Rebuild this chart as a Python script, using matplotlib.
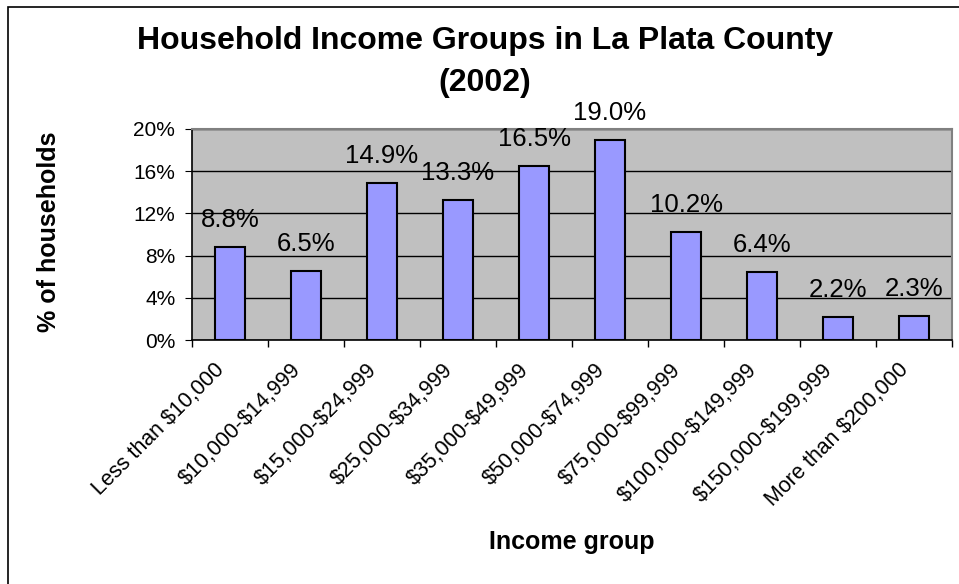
import matplotlib
matplotlib.use("Agg")
import matplotlib.pyplot as plt
import matplotlib.patches as patches
from matplotlib.ticker import FuncFormatter, MultipleLocator, FixedLocator
import matplotlib.transforms as mtransforms

plt.rcParams["font.family"] = ["Liberation Sans", "DejaVu Sans"]
plt.rcParams["text.parse_math"] = False

# Data
income_groups = [
    "Less than $10,000", "$10,000-$14,999", "$15,000-$24,999",
    "$25,000-$34,999", "$35,000-$49,999", "$50,000-$74,999",
    "$75,000-$99,999", "$100,000-$149,999", "$150,000-$199,999",
    "More than $200,000",
]
share_pct = [8.8, 6.5, 14.9, 13.3, 16.5, 19.0, 10.2, 6.4, 2.2, 2.3]

W, H = 959, 584
fig = plt.figure(figsize=(W / 100, H / 100), dpi=100)
fig.patch.set_facecolor("white")

# chart border (only left/top visible, rest cropped off)
fig.add_artist(patches.Rectangle((8 / W, -0.1), 1.2, 1.1 - 7 / H,
                                 transform=fig.transFigure, fill=False,
                                 edgecolor="black", linewidth=1.2))

ax = fig.add_axes([192 / W, 1 - 340 / H, (952 - 192) / W, (340 - 129) / H])
ax.set_facecolor("#C0C0C0")

x = list(range(len(share_pct)))
ax.bar(x, share_pct, width=0.4, color="#9999FF", edgecolor="black",
       linewidth=1.5, zorder=3)

for xi, v in zip(x, share_pct):
    ax.annotate(f"{v:.1f}%", (xi, v), xytext=(0, 27), textcoords="offset pixels",
                ha="center", va="center", fontsize=18.5, zorder=4)

ax.set_xlim(-0.5, len(share_pct) - 0.5)
ax.set_ylim(0, 20)
ax.yaxis.set_major_locator(MultipleLocator(4))
ax.yaxis.set_major_formatter(FuncFormatter(lambda v, p: f"{v:.0f}%"))
ax.grid(axis="y", color="black", linewidth=1.0, zorder=1)
ax.set_axisbelow(True)

ax.set_xticks(x)
ax.set_xticklabels(income_groups, rotation=45, ha="right",
                   rotation_mode="anchor", fontsize=15.5)
ax.xaxis.set_minor_locator(FixedLocator([i - 0.5 for i in range(len(x) + 1)]))
ax.tick_params(axis="x", which="major", length=0, pad=14)
ax.tick_params(axis="x", which="minor", length=5, direction="out", width=1)
ax.tick_params(axis="y", length=5, direction="out", labelsize=15, pad=7)
offset = mtransforms.ScaledTranslation(-16 / 100, 0, fig.dpi_scale_trans)
for lbl in ax.get_xticklabels():
    lbl.set_transform(lbl.get_transform() + offset)

for side in ["top", "right"]:
    ax.spines[side].set_color("#808080")
    ax.spines[side].set_linewidth(1.5)
for side in ["left", "bottom"]:
    ax.spines[side].set_color("black")
    ax.spines[side].set_linewidth(1.2)

fig.text(485 / W, 1 - 41 / H, "Household Income Groups in La Plata County",
         ha="center", va="center", fontsize=23, fontweight="bold")
fig.text(485 / W, 1 - 83 / H, "(2002)", ha="center", va="center",
         fontsize=23, fontweight="bold")
fig.text(49 / W, 1 - 232 / H, "% of households", rotation=90, ha="center",
         va="center", fontsize=18, fontweight="bold")
fig.text(572 / W, 1 - 542 / H, "Income group", ha="center", va="center",
         fontsize=18, fontweight="bold")

fig.savefig("out.png", dpi=100)
